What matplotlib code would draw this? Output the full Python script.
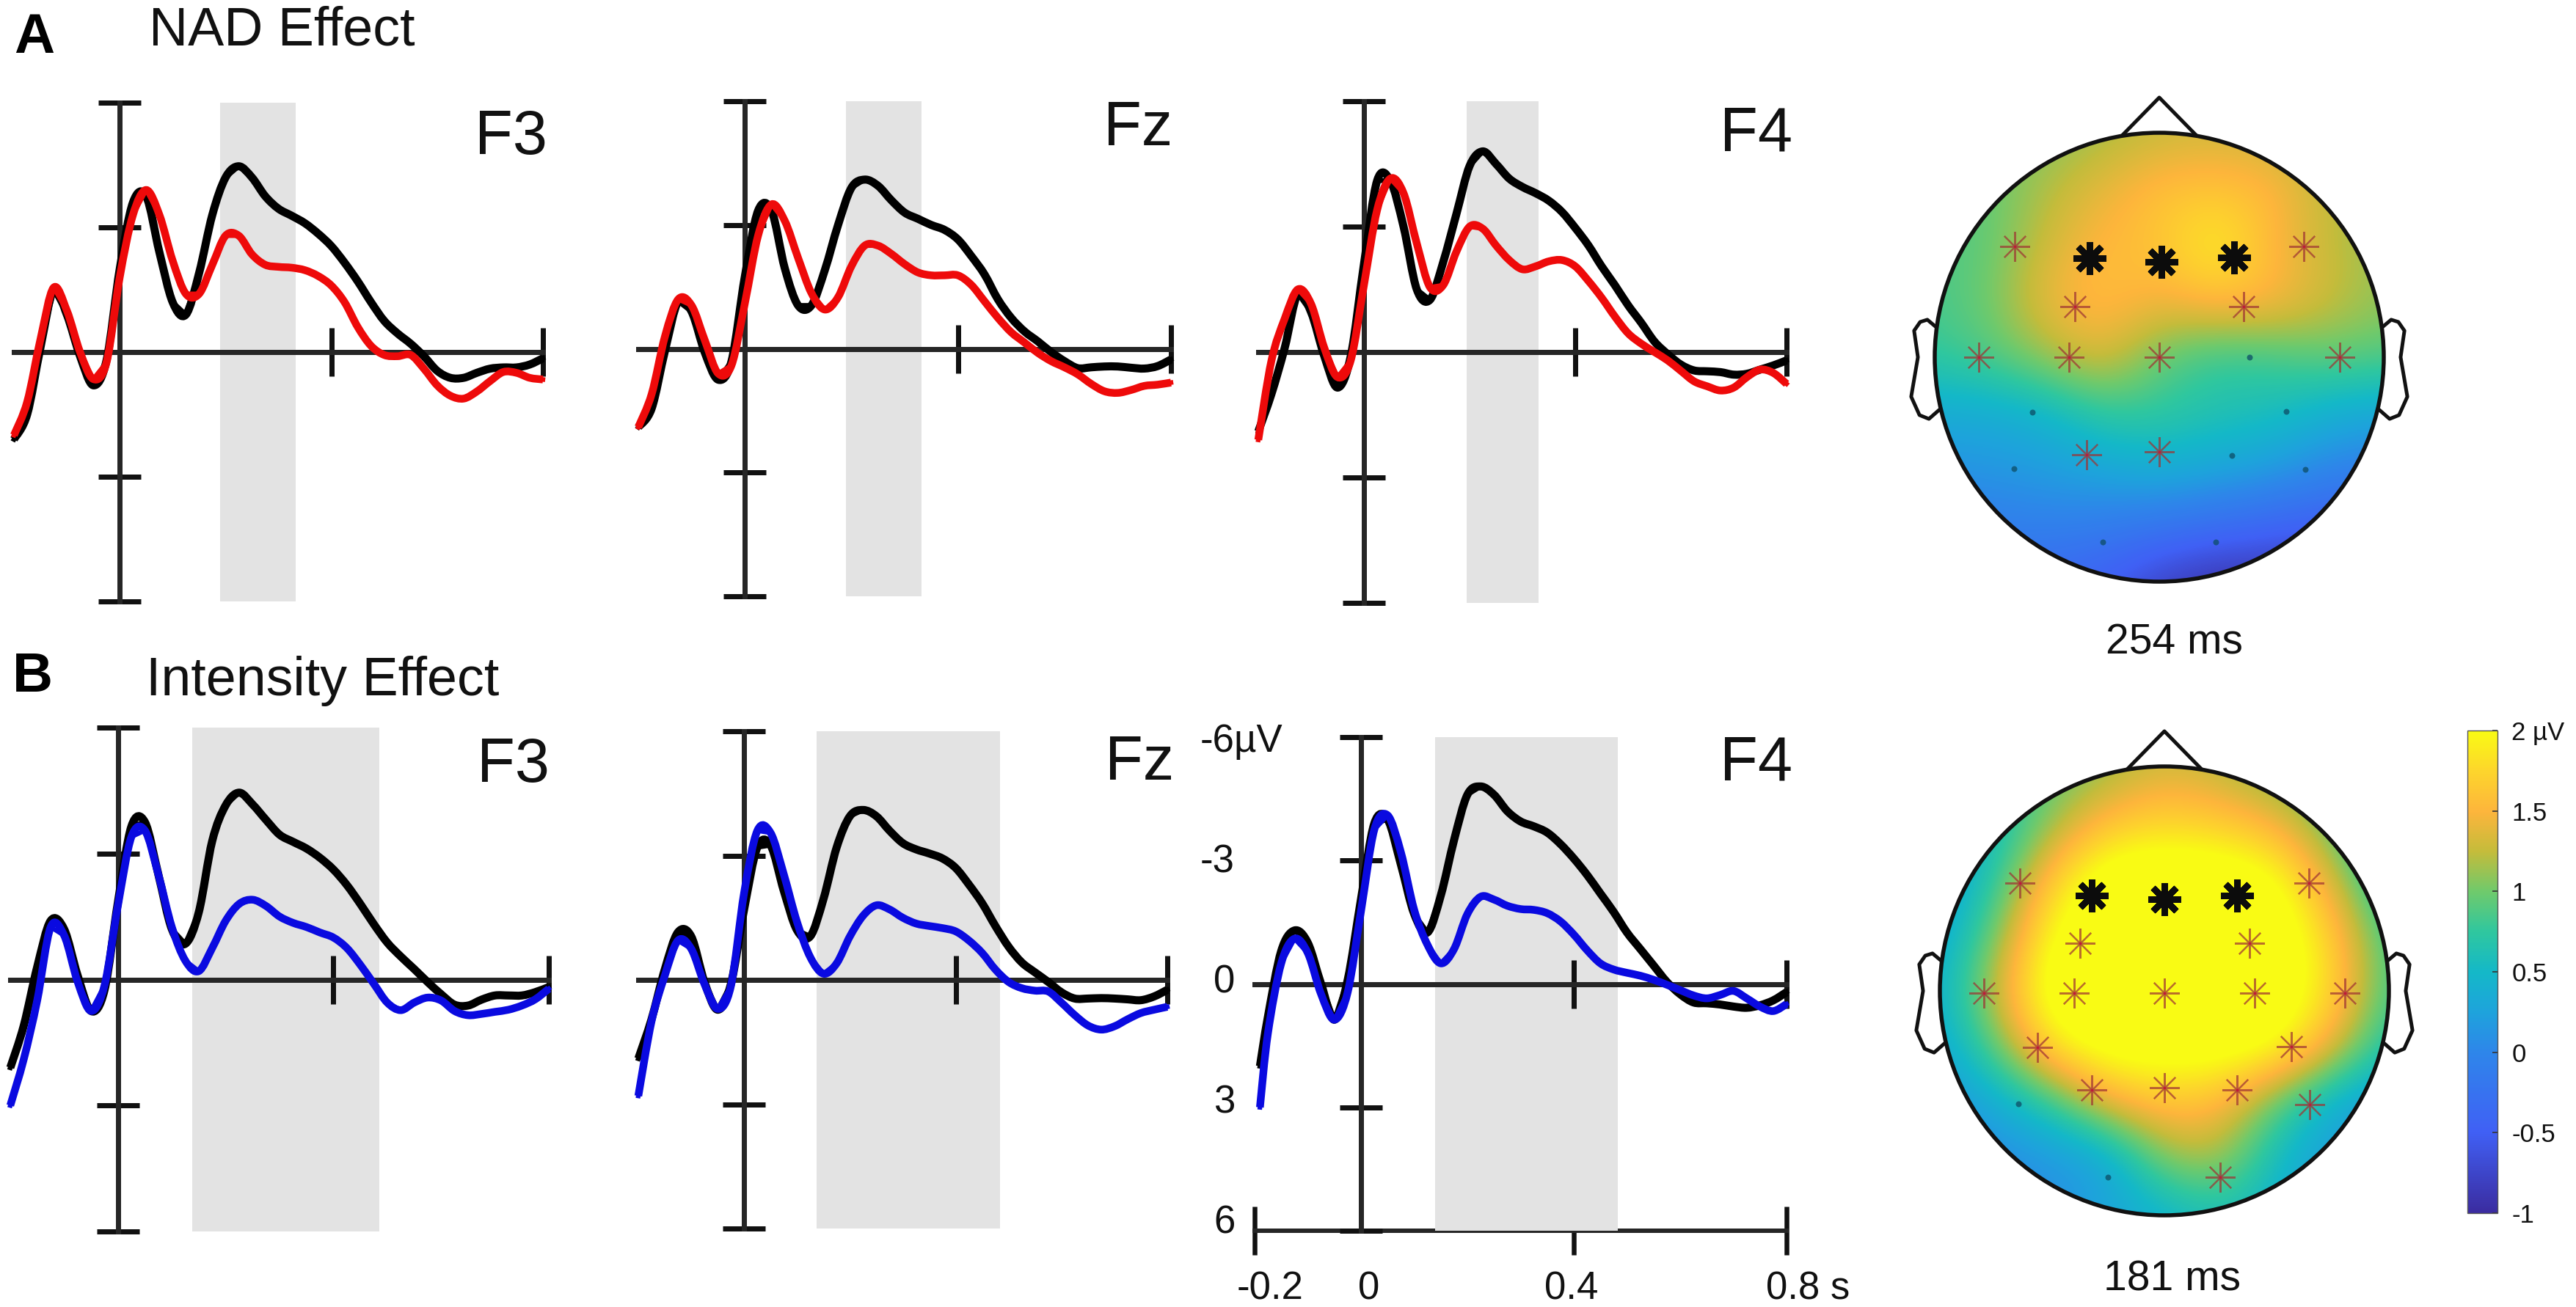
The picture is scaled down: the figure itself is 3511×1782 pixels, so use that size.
import numpy as np
import matplotlib
matplotlib.use("Agg")
import matplotlib.pyplot as plt
from matplotlib.colors import LinearSegmentedColormap, Normalize
from matplotlib.cm import ScalarMappable
from matplotlib.patches import Circle, Polygon, PathPatch
from matplotlib.path import Path

W, H = 3512, 1782
plt.rcParams['font.family'] = ['Liberation Sans', 'DejaVu Sans']

TIME = np.arange(-0.2, 0.8001, 0.025)
TIME_B_F4 = np.concatenate([[-0.19], TIME[1:]])

A_F3_BLACK = [2.1,1.5,-0.1,-1.5,-0.9,0.1,0.8,0.2,-2.0,-3.6,-3.75,-2.4,-1.2,-0.9,-1.9,-3.3,-4.2,-4.47,-4.2,-3.75,-3.45,-3.28,-3.1,-2.85,-2.55,-2.15,-1.7,-1.2,-0.75,-0.45,-0.2,0.1,0.45,0.62,0.62,0.5,0.4,0.37,0.37,0.3,0.15]
A_F3_RED = [2.0,1.2,-0.3,-1.55,-1.0,0.0,0.65,0.25,-1.8,-3.3,-3.9,-3.3,-2.2,-1.4,-1.4,-2.1,-2.8,-2.8,-2.35,-2.1,-2.05,-2.03,-1.97,-1.83,-1.6,-1.2,-0.6,-0.15,0.07,0.1,0.07,0.4,0.8,1.05,1.12,0.95,0.7,0.48,0.5,0.62,0.66]
A_FZ_BLACK = [1.9,1.45,0.05,-1.15,-0.9,0.1,0.75,0.3,-1.75,-3.35,-3.35,-1.95,-1.05,-1.05,-1.9,-3.0,-3.9,-4.1,-3.95,-3.6,-3.3,-3.15,-3.0,-2.88,-2.65,-2.25,-1.8,-1.2,-0.75,-0.42,-0.18,0.08,0.3,0.47,0.45,0.43,0.43,0.46,0.48,0.42,0.26]
A_FZ_RED = [1.9,1.1,-0.3,-1.2,-1.05,-0.2,0.6,0.4,-1.1,-2.75,-3.5,-3.1,-2.2,-1.35,-0.95,-1.25,-2.0,-2.5,-2.5,-2.3,-2.05,-1.85,-1.78,-1.78,-1.78,-1.55,-1.15,-0.75,-0.4,-0.15,0.1,0.3,0.45,0.62,0.85,1.03,1.07,1.0,0.9,0.87,0.82]
A_F4_BLACK = [1.9,1.0,-0.1,-1.4,-0.95,0.1,0.85,0.1,-2.1,-4.1,-4.1,-3.0,-1.5,-1.25,-2.15,-3.3,-4.45,-4.8,-4.5,-4.15,-3.95,-3.8,-3.62,-3.35,-2.97,-2.55,-2.05,-1.6,-1.12,-0.7,-0.25,0.05,0.3,0.44,0.46,0.48,0.54,0.52,0.42,0.32,0.2]
A_F4_RED = [2.1,0.2,-0.8,-1.5,-1.15,-0.1,0.6,0.2,-1.6,-3.4,-4.15,-3.8,-2.6,-1.55,-1.6,-2.4,-3.0,-2.95,-2.55,-2.2,-1.98,-2.05,-2.17,-2.2,-2.05,-1.7,-1.3,-0.85,-0.45,-0.2,0.0,0.2,0.45,0.7,0.82,0.92,0.85,0.6,0.42,0.5,0.76]
B_F3_BLACK = [2.1,1.1,-0.3,-1.4,-1.2,-0.1,0.75,0.25,-1.85,-3.65,-3.75,-2.5,-1.2,-0.85,-1.6,-3.3,-4.15,-4.45,-4.17,-3.8,-3.45,-3.28,-3.12,-2.9,-2.62,-2.25,-1.8,-1.32,-0.88,-0.55,-0.25,0.06,0.35,0.6,0.62,0.48,0.38,0.38,0.38,0.3,0.18]
B_F3_BLUE = [3.0,1.9,0.5,-1.25,-1.05,0.05,0.75,0.14,-1.77,-3.4,-3.55,-2.5,-1.25,-0.45,-0.2,-0.75,-1.4,-1.8,-1.9,-1.75,-1.5,-1.35,-1.25,-1.12,-1.0,-0.75,-0.35,0.1,0.55,0.73,0.55,0.43,0.5,0.75,0.85,0.82,0.77,0.72,0.62,0.47,0.22]
B_FZ_BLACK = [1.9,0.95,-0.25,-1.15,-1.05,0.05,0.72,0.1,-1.7,-3.2,-3.25,-2.15,-1.2,-1.05,-1.95,-3.2,-3.95,-4.1,-3.95,-3.6,-3.3,-3.15,-3.05,-2.93,-2.7,-2.3,-1.85,-1.3,-0.8,-0.42,-0.18,0.05,0.3,0.45,0.45,0.44,0.45,0.47,0.49,0.4,0.24]
B_FZ_BLUE = [2.8,1.0,-0.1,-0.95,-0.75,0.1,0.7,0.15,-2.1,-3.6,-3.55,-2.55,-1.4,-0.55,-0.15,-0.4,-1.05,-1.55,-1.8,-1.7,-1.5,-1.36,-1.3,-1.25,-1.17,-0.95,-0.65,-0.25,0.05,0.2,0.26,0.28,0.55,0.85,1.1,1.2,1.12,0.95,0.8,0.72,0.65]
B_F4_BLACK = [2.0,0.8,-0.8,-1.3,-1.0,0.0,0.87,-0.1,-2.06,-3.9,-4.0,-2.9,-1.7,-1.25,-2.15,-3.5,-4.6,-4.8,-4.6,-4.2,-3.95,-3.83,-3.68,-3.4,-3.05,-2.65,-2.2,-1.75,-1.25,-0.85,-0.45,-0.05,0.25,0.45,0.47,0.5,0.55,0.58,0.52,0.4,0.2]
B_F4_BLUE = [3.0,1.2,-0.5,-1.1,-0.75,0.25,0.87,0.2,-1.77,-3.75,-4.1,-3.2,-1.8,-0.95,-0.5,-0.85,-1.7,-2.12,-2.05,-1.9,-1.82,-1.8,-1.72,-1.52,-1.2,-0.82,-0.5,-0.35,-0.27,-0.2,-0.1,0.02,0.15,0.28,0.35,0.27,0.17,0.35,0.55,0.66,0.49]

SHADE_A_F3 = (0.19, 0.332)
SHADE_A_FZ = (0.19, 0.332)
SHADE_A_F4 = (0.194, 0.33)
SHADE_B_F3 = (0.138, 0.485)
SHADE_B_FZ = (0.137, 0.484)
SHADE_B_F4 = (0.139, 0.483)

MAP_A = [
 [1.0,1.0,1.05,1.15,1.25,1.3,1.25,1.1,1.1],
 [0.9,0.95,1.2,1.4,1.6,1.6,1.55,1.25,1.1],
 [0.85,0.95,1.3,1.55,1.6,2.0,1.5,1.25,1.1],
 [0.85,1.0,1.45,1.6,1.45,1.6,1.55,1.3,1.1],
 [0.75,0.9,1.15,1.4,0.95,0.75,0.8,0.95,0.9],
 [0.35,0.35,0.45,0.75,0.75,0.65,0.6,0.4,0.3],
 [0.1,0.15,0.2,0.3,0.4,0.3,0.2,0.0,-0.1],
 [-0.1,-0.1,-0.05,-0.1,-0.2,-0.3,-0.4,-0.5,-0.5],
 [-0.3,-0.3,-0.4,-0.5,-0.8,-0.95,-0.95,-0.95,-0.9],
]
MAP_B = [
 [0.8,0.8,0.9,1.1,1.3,1.2,0.95,0.8,0.8],
 [0.4,0.5,1.1,1.6,1.75,1.65,1.45,0.9,0.4],
 [0.2,0.7,1.7,2.3,2.3,2.3,2.1,1.3,0.5],
 [0.3,1.0,2.1,2.3,2.3,2.3,2.3,1.7,0.75],
 [0.4,1.3,2.3,2.3,2.3,2.3,2.3,1.8,0.8],
 [0.3,0.95,1.9,2.2,2.2,2.2,2.1,1.4,0.6],
 [0.1,0.35,0.75,1.45,1.65,1.55,0.9,0.35,0.15],
 [-0.1,0.05,0.12,0.25,1.1,1.2,0.5,0.2,0.1],
 [-0.1,0.0,0.1,0.3,0.4,0.6,0.4,0.2,0.1],
]

SIG_A = [(-.311,.440),(.010,.426),(.334,.443)]
STAR_A = [(-.644,.495),(.644,.495),(-.376,.224),(.376,.224),(-.803,0),(-.401,0),(0,0),(.803,0),(-.323,-.435),(0,-.423)]
DOT_A = [(.401,0),(-.565,-.244),(.564,-.242),(.322,-.438),(-.648,-.497),(.649,-.5),(-.251,-.823),(.251,-.825)]
SIG_B = [(-.324,.425),(0,.407),(.324,.425)]
STAR_B = [(-.644,.48),(.644,.48),(-.376,.212),(.378,.212),(-.803,-.01),(-.403,-.01),(0,-.01),(.402,-.01),(.805,-.01),
          (-.565,-.253),(.565,-.248),(-.324,-.442),(0,-.433),(.324,-.442),(.646,-.508),(.249,-.83)]
DOT_B = [(-.650,-.503),(-.251,-.83)]

CBAR_TICKS = [2, 1.5, 1, 0.5, 0, -0.5, -1]
CBAR_LABELS = ['2 µV', '1.5', '1', '0.5', '0', '-0.5', '-1']
Y_TICKS = [-6, -3, 0, 3, 6]
X_TICKS = [0, 0.4, 0.8]
X_LABELS = ['-0.2', '0', '0.4', '0.8 s']
Y_LABELS = ['-6µV', '-3', '0', '3', '6']

PX = 0.72  # points per pixel at dpi 100
AXIS_C = '#262626'
RED = '#ee0a0a'
BLUE = '#0a0ae0'
SHADE = '#e3e3e3'

cmap = LinearSegmentedColormap.from_list('parula_like', [
    (0.0, '#3b2ca0'), (0.1667, '#4060f5'), (0.3333, '#2e86ea'), (0.4167, '#1ea3dc'),
    (0.5, '#14b8c8'), (0.5833, '#2fc79f'), (0.6667, '#6fca6c'), (0.75, '#c4bc3b'),
    (0.8333, '#fdb53c'), (0.9167, '#fdd52c'), (1.0, '#f9fb14')])
norm = Normalize(-1, 2)

fig = plt.figure(figsize=(W / 100, H / 100), dpi=100, facecolor='white')

def px_axes(l, t, r, b):
    return fig.add_axes([l / W, 1 - b / H, (r - l) / W, (b - t) / H])

def ptext(x, y, s, size, **kw):
    kw.setdefault('va', 'baseline')
    kw.setdefault('ha', 'left')
    kw.setdefault('color', '#111111')
    fig.text(x / W, 1 - y / H, s, fontsize=size, **kw)

def trace(ax, time, values, colour, width, z):
    # the measured line, with a smooth stroke through the same readings on top of it
    ax.plot(time, values, color=colour, lw=width * 0.6 * PX, zorder=z, clip_on=False)
    p = np.column_stack([time, values])
    prev = np.vstack([p[0], p[:-1]])
    nxt = np.vstack([p[1:], p[-1]])
    slope = (nxt - prev) / 6
    verts = [p[0]]
    for i in range(len(p) - 1):
        verts += [p[i] + slope[i], p[i + 1] - slope[i + 1], p[i + 1]]
    codes = [Path.MOVETO] + [Path.CURVE4] * (3 * (len(p) - 1))
    ax.add_patch(PathPatch(Path(verts, codes), fill=False, ec=colour, lw=width * PX,
                           capstyle='butt', joinstyle='round', zorder=z, clip_on=False))

def erp(box, name, name_xy, shade, black, other, colour, time=TIME):
    l, t, r, b = box
    ax = px_axes(l, t, r, b)
    ax.patch.set_alpha(0)
    ax.set_xlim(-0.2, 0.8)
    ax.set_ylim(6, -6)
    for s in ('top', 'right'):
        ax.spines[s].set_visible(False)
    ax.spines['left'].set_position(('data', 0))
    ax.spines['bottom'].set_position(('data', 0))
    for s in ('left', 'bottom'):
        ax.spines[s].set_linewidth(7 * PX)
        ax.spines[s].set_color(AXIS_C)
    ax.set_xticks(X_TICKS)
    ax.set_yticks(Y_TICKS)
    ax.set_xticklabels([])
    ax.set_yticklabels([])
    ax.tick_params(axis='x', direction='inout', length=67 * PX, width=7 * PX, color='#111111')
    ax.tick_params(axis='y', direction='inout', length=58 * PX, width=7 * PX, color='#111111')
    ax.axvspan(shade[0], shade[1], color=SHADE, lw=0, zorder=0.5)
    trace(ax, time, black, '#000000', 11, 3)
    trace(ax, time, other, colour, 10.5, 3.2)
    ptext(name_xy[0], name_xy[1], name, 61)
    return ax

erp((19, 140, 740, 820), 'F3', (647, 210), SHADE_A_F3, A_F3_BLACK, A_F3_RED, RED)
erp((870, 138, 1596, 813), 'Fz', (1504, 198), SHADE_A_FZ, A_FZ_BLACK, A_FZ_RED, RED)
erp((1715, 138, 2435, 822), 'F4', (2344, 205), SHADE_A_F4, A_F4_BLACK, A_F4_RED, RED)
erp((14, 992, 748, 1679), 'F3', (650, 1066), SHADE_B_F3, B_F3_BLACK, B_F3_BLUE, BLUE)
erp((870, 997, 1591, 1675), 'Fz', (1506, 1063), SHADE_B_FZ, B_FZ_BLACK, B_FZ_BLUE, BLUE)
ax_f4 = erp((1710, 1005, 2435, 1678), 'F4', (2344, 1064), SHADE_B_F4, B_F4_BLACK, B_F4_BLUE, BLUE, TIME_B_F4)

sec = ax_f4.secondary_xaxis('bottom')
sec.spines['bottom'].set_linewidth(6 * PX)
sec.spines['bottom'].set_color(AXIS_C)
sec.set_xticks([-0.2, 0.4, 0.8])
sec.set_xticklabels([])
sec.tick_params(direction='inout', length=66 * PX, width=6.5 * PX, color='#111111')

for x, y, s in zip([1636, 1636, 1654, 1654, 1654], [1025, 1189, 1354, 1518, 1682], Y_LABELS):
    ptext(x, y, s, 38)
for x, s in zip([1731, 1866, 2142, 2464], X_LABELS):
    ptext(x, 1772, s, 38, ha='center')

ptext(203, 62, 'NAD Effect', 53)
ptext(199, 948, 'Intensity Effect', 53)
ptext(19, 72, 'A', 55, fontweight='bold', color='black')
ptext(17, 943, 'B', 55, fontweight='bold', color='black')

EAR = np.array([(-.995,.135),(-1.033,.167),(-1.065,.157),(-1.092,.118),(-1.075,0),(-1.105,-.176),(-1.068,-.258),(-1.026,-.275),(-.977,-.232)])

def head(cx, cy, r, grid, sig, star, dot):
    span = r * 1.2
    ax = px_axes(cx - span, cy - span, cx + span, cy + span)
    ax.set_xlim(-1.2, 1.2)
    ax.set_ylim(-1.2, 1.2)
    ax.axis('off')
    lw = 5.5 * PX
    ax.add_patch(Polygon(EAR, closed=False, fill=False, ec='#111111', lw=lw * 0.9, joinstyle='round'))
    ax.add_patch(Polygon(EAR * [-1, 1], closed=False, fill=False, ec='#111111', lw=lw * 0.9, joinstyle='round'))
    ax.add_patch(Polygon([(-.183, .97), (0, 1.157), (.183, .97)], closed=False, fill=False, ec='#111111', lw=lw * 0.9, joinstyle='round'))
    im = ax.imshow(grid, extent=(-1.125, 1.125, -1.125, 1.125), cmap=cmap, norm=norm,
                   interpolation='bicubic', origin='upper', zorder=2)
    im.set_clip_path(Circle((0, 0), 1, transform=ax.transData))
    ax.set_xlim(-1.2, 1.2)
    ax.set_ylim(-1.2, 1.2)
    ax.add_patch(Circle((0, 0), 1, fill=False, ec='#111111', lw=lw, zorder=3))
    sx, sy = zip(*star)
    ax.plot(sx, sy, ls='none', marker=(8, 2, 0), ms=41 * PX, mew=2.2 * PX, mec=(0.62, 0.2, 0.2, 0.7), zorder=4)
    ax.plot(sx, sy, ls='none', marker='o', ms=4 * PX, mfc='#c01a3a', mec='none', zorder=4.1)
    dx, dy = zip(*dot)
    ax.plot(dx, dy, ls='none', marker='o', ms=8 * PX, mfc=(0.05, 0.3, 0.4, 0.75), mec='none', zorder=4)
    gx, gy = zip(*sig)
    ax.plot(gx, gy, ls='none', marker=(8, 2, 0), ms=45 * PX, mew=8.5 * PX, mec='#0c0c0c', zorder=5)

head(2943, 487, 306, MAP_A, SIG_A, STAR_A, DOT_A)
head(2950, 1351, 306, MAP_B, SIG_B, STAR_B, DOT_B)

ptext(2963, 891, '254 ms', 41, ha='center')
ptext(2961, 1759, '181 ms', 41, ha='center')

cax = px_axes(3363, 996, 3404, 1654)
cb = fig.colorbar(ScalarMappable(norm=norm, cmap=cmap), cax=cax, ticks=CBAR_TICKS)
cb.ax.set_yticklabels(CBAR_LABELS)
cb.ax.tick_params(direction='in', length=5, width=1.2, color='#333333', labelsize=25, pad=14, labelcolor='#111111')
cb.outline.set_linewidth(1.0)
cb.outline.set_edgecolor('#555555')

fig.savefig('out.png', dpi=100, facecolor='white')
